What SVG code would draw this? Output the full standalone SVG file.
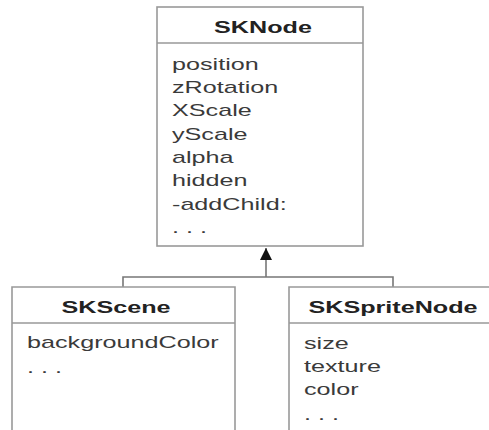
<svg xmlns="http://www.w3.org/2000/svg" width="489" height="430" viewBox="0 0 489 430">
<defs>
<style>
.box{fill:#fff;stroke:#999;stroke-width:1.6}
.div{stroke:#999;stroke-width:1.6}
.title{font-family:"Liberation Sans",Arial,sans-serif;font-weight:bold;font-size:17px;fill:#222;text-anchor:middle}
.attr{font-family:"Liberation Sans",Arial,sans-serif;font-size:17px;fill:#3a3a3a}
.conn{fill:none;stroke:#777;stroke-width:1.6}
</style>
<marker id="tri" viewBox="0 0 12 12" refX="12" refY="6" markerWidth="12" markerHeight="12" markerUnits="userSpaceOnUse" orient="auto">
<path d="M0,0 L12,6 L0,12 z" fill="#111"/>
</marker>
</defs>
<rect width="489" height="430" fill="#fff"/>
<g id="connectors">
<path class="conn" d="M123,287 V277 H393 V287"/>
<path class="conn" d="M266,277 V248" marker-end="url(#tri)"/>
</g>
<g id="SKNode">
<rect class="box" x="157" y="7" width="206" height="239"/>
<line class="div" x1="157" y1="43" x2="363" y2="43"/>
<g transform="translate(263,0) scale(1.48,1)"><text class="title" x="0" y="33">SKNode</text></g>
<g transform="translate(172,0) scale(1.48,1)">
<text class="attr" x="0" y="70">position</text>
<text class="attr" x="0" y="93">zRotation</text>
<text class="attr" x="0" y="116">XScale</text>
<text class="attr" x="0" y="140">yScale</text>
<text class="attr" x="0" y="163">alpha</text>
<text class="attr" x="0" y="186">hidden</text>
<text class="attr" x="0" y="210">-addChild:</text>
<text class="attr" x="0" y="233">. . .</text>
</g>
</g>
<g id="SKScene">
<path class="box" d="M12,432 V287 H235 V432"/>
<line class="div" x1="12" y1="323" x2="235" y2="323"/>
<g transform="translate(116,0) scale(1.48,1)"><text class="title" x="0" y="313">SKScene</text></g>
<g transform="translate(27,0) scale(1.48,1)">
<text class="attr" x="0" y="348">backgroundColor</text>
<text class="attr" x="0" y="373">. . .</text>
</g>
</g>
<g id="SKSpriteNode">
<path class="box" d="M492,287 H289 V432"/>
<line class="div" x1="289" y1="323" x2="492" y2="323"/>
<g transform="translate(393,0) scale(1.48,1)"><text class="title" x="0" y="313">SKSpriteNode</text></g>
<g transform="translate(304,0) scale(1.48,1)">
<text class="attr" x="0" y="349">size</text>
<text class="attr" x="0" y="372">texture</text>
<text class="attr" x="0" y="395">color</text>
<text class="attr" x="0" y="420">. . .</text>
</g>
</g>
</svg>
